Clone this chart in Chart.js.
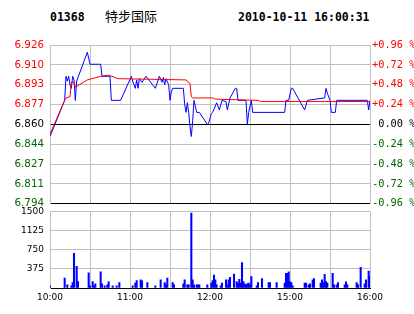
<!DOCTYPE html>
<html>
<head>
<meta charset="utf-8">
<script src="https://cdn.jsdelivr.net/npm/chart.js@4"></script>
<style>
body { margin: 0; background: #fff; width: 414px; height: 314px; position: relative; overflow: hidden; }
.hd { position: absolute; top: 10px; font: bold 11.5px "DejaVu Sans Mono", monospace; color: #000; white-space: pre; }
#name { font: 13px "Noto Sans CJK SC", sans-serif; top: 6px; left: 105px; }
canvas { position: absolute; left: 0; }
</style>
</head>
<body>
<div class="hd" style="left:50px">01368</div>
<div class="hd" id="name">特步国际</div>
<div class="hd" style="left:238px">2010-10-11 16:00:31</div>
<canvas id="priceChart" width="414" height="216" style="top:0"></canvas>
<canvas id="volChart" width="414" height="114" style="top:200px"></canvas>
<script>
// axis ticks
const priceTickVals = [6.794, 6.8105, 6.827, 6.8435, 6.86, 6.8765, 6.893, 6.9095, 6.926];
const priceTickLabels = ['6.794', '6.811', '6.827', '6.844', '6.860', '6.877', '6.893', '6.910', '6.926'];
const pctTickVals = [-0.96, -0.72, -0.48, -0.24, 0, 0.24, 0.48, 0.72, 0.96];
const pctTickLabels = ['-0.96 %', '-0.72 %', '-0.48 %', '-0.24 %', ' 0.00 %', '+0.24 %', '+0.48 %', '+0.72 %', '+0.96 %'];
const timeTickVals = [0, 60, 120, 180, 240];
const timeTickLabels = ['10:00', '11:00', '12:00', '15:00', '16:00'];
const volTickVals = [375, 750, 1125, 1500];

// minutes from 10:00 (afternoon session continues after minute 150)
const priceMinutes = [0, 11, 12, 13, 14, 15, 16, 17, 18, 19, 20, 28, 30, 38, 39, 45, 46, 53, 61, 62,
    64, 65, 66, 67, 69, 72, 79, 82, 84, 85, 86, 87, 89, 90, 91, 92, 100, 101, 102, 103,
    104, 105, 106, 107, 108, 110, 112, 118, 119, 121, 122, 125, 127, 129, 132, 133, 135, 139, 140, 141,
    147, 148, 149, 151, 152, 176, 177, 179, 181, 182, 191, 193, 206, 207, 208, 210, 211, 214, 215, 238,
    239, 240];
const priceValues = [6.850, 6.880, 6.900, 6.896, 6.900, 6.893, 6.890, 6.900, 6.897, 6.880, 6.896, 6.920, 6.910, 6.910, 6.900, 6.900, 6.880, 6.880, 6.900, 6.896,
    6.890, 6.897, 6.890, 6.898, 6.895, 6.900, 6.890, 6.900, 6.895, 6.899, 6.893, 6.898, 6.893, 6.880, 6.887, 6.890, 6.890, 6.877, 6.870, 6.878,
    6.870, 6.858, 6.850, 6.863, 6.880, 6.870, 6.870, 6.860, 6.861, 6.869, 6.870, 6.878, 6.872, 6.880, 6.879, 6.872, 6.882, 6.890, 6.890, 6.880,
    6.880, 6.860, 6.870, 6.880, 6.870, 6.870, 6.880, 6.880, 6.890, 6.890, 6.872, 6.880, 6.882, 6.890, 6.886, 6.880, 6.870, 6.870, 6.880, 6.880,
    6.872, 6.880];

const avgMinutes = [0, 11, 12, 15, 16, 18, 19, 28, 38, 44, 51, 102, 105, 106, 107, 122, 124, 156, 158, 240];
const avgValues = [6.852, 6.880, 6.882, 6.883, 6.895, 6.895, 6.891, 6.897, 6.900, 6.901, 6.898, 6.897, 6.894, 6.883, 6.882, 6.882, 6.881, 6.880, 6.879, 6.879];

const volMinutes = [0, 11, 13, 16, 17, 18, 20, 21, 29, 30, 32, 33, 34, 38, 39, 41, 43, 44, 47, 50,
    52, 62, 64, 65, 68, 69, 73, 79, 83, 86, 87, 88, 92, 93, 100, 101, 103, 104, 106, 107,
    108, 110, 111, 112, 118, 121, 122, 123, 124, 125, 128, 129, 132, 133, 134, 135, 138, 140, 141, 142,
    143, 144, 145, 146, 147, 148, 149, 150, 151, 155, 156, 159, 164, 165, 170, 176, 177, 178, 179, 180,
    181, 182, 191, 192, 194, 195, 197, 198, 203, 204, 205, 206, 207, 208, 212, 213, 215, 216, 221, 222,
    223, 230, 231, 233, 236, 237, 239, 240];
const volValues = [44, 195, 63, 44, 108, 677, 424, 127, 298, 44, 127, 44, 82, 317, 82, 44, 63, 120, 44, 44,
    108, 44, 95, 146, 158, 139, 108, 44, 158, 108, 63, 196, 108, 63, 82, 158, 63, 63, 1468, 158,
    63, 63, 63, 63, 63, 95, 146, 253, 158, 63, 44, 95, 158, 63, 158, 209, 272, 127, 95, 171,
    95, 500, 127, 82, 63, 82, 95, 63, 222, 44, 108, 184, 108, 108, 108, 95, 285, 285, 317, 120,
    108, 44, 95, 95, 63, 82, 158, 184, 95, 158, 108, 266, 127, 95, 285, 63, 63, 108, 63, 120,
    63, 108, 63, 405, 82, 158, 330, 234];

const GRID = '#c0c0c0';
const RED = '#ff0000';
const GREEN = '#006600';

function tickColor(ctx) {
    if (ctx.index < 4) return GREEN;
    if (ctx.index === 4) return '#000';
    return RED;
}

new Chart(document.getElementById('priceChart'), {
    type: 'line',
    data: {
        datasets: [{
            data: avgMinutes.map((m, i) => ({ x: m, y: avgValues[i] })),
            borderColor: RED,
            order: 0
        }, {
            data: priceMinutes.map((m, i) => ({ x: m, y: priceValues[i] })),
            borderColor: '#0000ff',
            order: 1
        }]
    },
    options: {
        responsive: false,
        animation: false,
        layout: { padding: { top: 45, left: 0, right: 0, bottom: 0 } },
        elements: { line: { borderWidth: 1, tension: 0 }, point: { radius: 0 } },
        plugins: { legend: { display: false }, tooltip: { enabled: false } },
        scales: {
            x: {
                type: 'linear', min: 0, max: 240,
                ticks: { display: false, stepSize: 30 },
                grid: { color: GRID, drawTicks: false },
                border: { color: '#000' },
                afterFit: s => { s.height = 8; }
            },
            y: {
                type: 'linear', position: 'left', min: 6.794, max: 6.926,
                afterBuildTicks: s => { s.ticks = priceTickVals.map(v => ({ value: v })); },
                ticks: {
                    callback: (v, i) => priceTickLabels[i],
                    color: tickColor, padding: 6,
                    font: { family: 'DejaVu Sans', size: 10.3 }
                },
                grid: { color: c => (c.index === 4 || c.index === 0) ? '#000' : GRID, drawTicks: false },
                border: { color: GRID },
                afterFit: s => { s.width = 50; }
            },
            y2: {
                type: 'linear', position: 'right', min: -0.96, max: 0.96,
                afterBuildTicks: s => { s.ticks = pctTickVals.map(v => ({ value: v })); },
                ticks: {
                    callback: (v, i) => pctTickLabels[i],
                    color: tickColor, padding: 2,
                    font: { family: 'DejaVu Sans Mono', size: 10.3 }
                },
                grid: { display: false, drawTicks: false },
                border: { color: GRID },
                afterFit: s => { s.width = 44; }
            }
        }
    }
});

new Chart(document.getElementById('volChart'), {
    type: 'bar',
    data: {
        datasets: [{
            data: volMinutes.map((m, i) => ({ x: m, y: volValues[i] })),
            backgroundColor: '#0000ff',
            barThickness: 1.4,
            borderWidth: 0
        }]
    },
    options: {
        responsive: false,
        animation: false,
        layout: { padding: { top: 9, left: 0, right: 44, bottom: 0 } },
        plugins: { legend: { display: false }, tooltip: { enabled: false } },
        scales: {
            x: {
                type: 'linear', min: 0, max: 240, offset: false,
                ticks: {
                    stepSize: 30, autoSkip: false, maxRotation: 0, padding: 4,
                    callback: v => {
                        const i = timeTickVals.indexOf(v);
                        return i < 0 ? '' : timeTickLabels[i];
                    },
                    color: '#000',
                    font: { family: 'DejaVu Sans', size: 9 }
                },
                grid: { color: GRID, drawTicks: false, offset: false },
                border: { color: '#000' },
                afterFit: s => { s.height = 26; }
            },
            y: {
                min: 0, max: 1500,
                ticks: {
                    stepSize: 375, padding: 6, color: '#000',
                    callback: v => volTickVals.includes(v) ? String(v) : '',
                    font: { family: 'DejaVu Sans', size: 9 }
                },
                grid: { color: GRID, drawTicks: false },
                border: { color: GRID },
                afterFit: s => { s.width = 50; }
            }
        }
    }
});
</script>
</body>
</html>
